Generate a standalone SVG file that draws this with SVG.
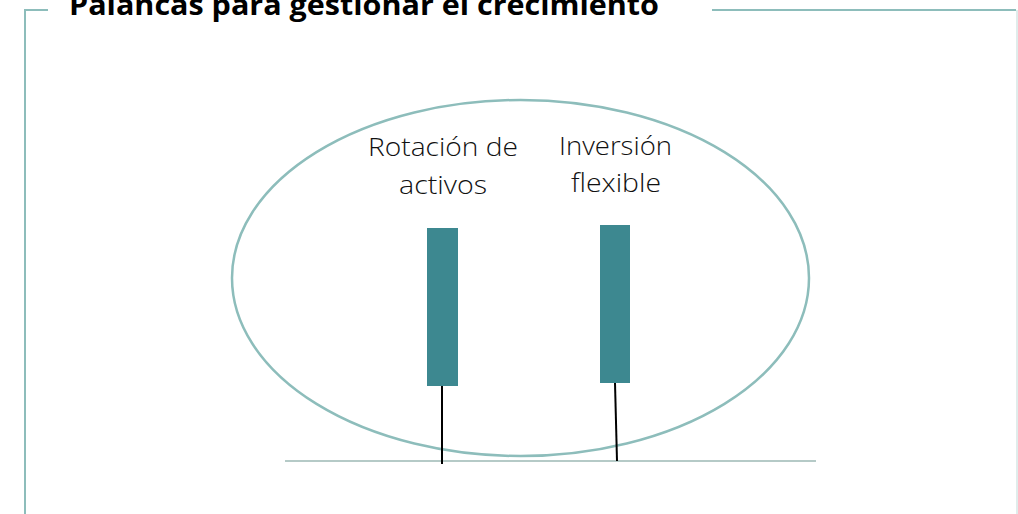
<svg xmlns="http://www.w3.org/2000/svg" width="1018" height="514" viewBox="0 0 1018 514">
<style>
.frame{fill:none;stroke:#8DBDBB;stroke-width:2}
.title{font-family:"Open Sans","Liberation Sans",sans-serif;font-weight:bold;font-size:28px;fill:#000}
.lbl{font-family:"Open Sans","Liberation Sans",sans-serif;font-weight:300;font-size:26px;fill:#111;text-anchor:middle}
.bar{fill:#3D8890}
.stem{stroke:#000;stroke-width:2;fill:none}
</style>
<rect width="1018" height="514" fill="#fff"/>
<g id="frame">
<path class="frame" d="M25,514 V10 H48"/>
<path class="frame" d="M712,10 H1016"/>
<path d="M1017,10 V514" stroke="#D6E6E5" stroke-width="1.5" fill="none"/>
</g>
<text class="title" x="69" y="15" textLength="590" lengthAdjust="spacingAndGlyphs">Palancas para gestionar el crecimiento</text>
<g id="ellipse">
<ellipse cx="520.5" cy="278" rx="288.5" ry="178" fill="none" stroke="#8DBDBB" stroke-width="2.5"/>
</g>
<g id="baseline">
<line x1="285" y1="461" x2="816" y2="461" stroke="#9DB8B5" stroke-width="1.5"/>
</g>
<g id="connectors">
<line class="stem" x1="442" y1="386" x2="442" y2="464"/>
<line class="stem" x1="615" y1="383" x2="617" y2="461"/>
</g>
<g id="node-rotacion">
<rect class="bar" x="427" y="228" width="31" height="158"/>
<text class="lbl" x="443" y="156" textLength="150" lengthAdjust="spacingAndGlyphs">Rotación de</text>
<text class="lbl" x="443" y="194" textLength="88" lengthAdjust="spacingAndGlyphs">activos</text>
</g>
<g id="node-inversion">
<rect class="bar" x="600" y="225" width="30" height="158"/>
<text class="lbl" x="615.5" y="155" textLength="113" lengthAdjust="spacingAndGlyphs">Inversión</text>
<text class="lbl" x="616" y="192" textLength="90" lengthAdjust="spacingAndGlyphs">flexible</text>
</g>
</svg>
